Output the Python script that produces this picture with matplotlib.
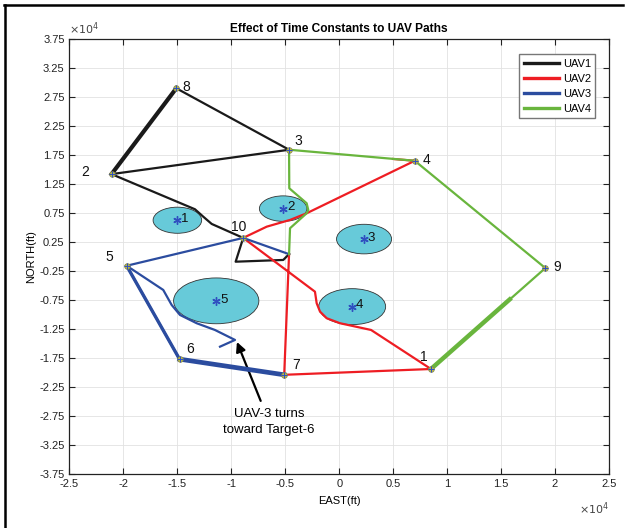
import matplotlib.pyplot as plt
from matplotlib.patches import Ellipse
from matplotlib.lines import Line2D
import numpy as np

plt.rcParams['font.family'] = ['Liberation Sans', 'DejaVu Sans']

# waypoints (ft)
wp_id = [1, 2, 3, 4, 5, 6, 7, 8, 9, 10]
wp_x = [8500, -21100, -4650, 7000, -19700, -14800, -5100, -15100, 19100, -8900]
wp_y = [-19400, 14200, 18400, 16500, -1600, -17700, -20400, 29000, -2000, 3200]

# targets: centre and radius (ft)
tg_id = [1, 2, 3, 4, 5]
tg_x = [-15000, -5200, 2300, 1200, -11400]
tg_y = [6250, 8250, 3000, -8650, -7650]
tg_r = [2250, 2200, 2550, 3100, 3950]

# UAV paths
uav1_x = [-4650, -5190, -9600, -8900, -11820, -12600, -13370, -21100, -15100, -4650, -21100]
uav1_y = [400, -600, -900, 3200, 5610, 6860, 8140, 14200, 29000, 18400, 14200]
uav2_x = [-4650, -5100, 8500, 2950, 70, -1160, -1780, -2090, -2250, -8900, -6720, -4560, -3020, 7000, 4980]
uav2_y = [400, -20400, -19400, -12670, -11510, -10650, -9510, -8070, -6070, 3200, 5140, 6300, 7450, 16500, 16810]
uav3_x = [-4650, -8900, -19700, -14800, -5100]
uav3_y = [400, 3200, -1600, -17700, -20400]
uav3_turn_x = [-19700, -16310, -15530, -14760, -13210, -11520, -9660, -11050]
uav3_turn_y = [-1600, -5770, -8360, -10080, -11510, -12670, -14390, -15550]
uav4_x = [-4650, -4560, -3020, -2870, -3020, -4630, -4650, 7000, 19100, 8500]
uav4_y = [400, 4870, 7450, 8020, 9180, 11760, 18400, 16500, -2000, -19400]

xticks = [-25000, -20000, -15000, -10000, -5000, 0, 5000, 10000, 15000, 20000, 25000]
xticklabels = ['-2.5', '-2', '-1.5', '-1', '-0.5', '0', '0.5', '1', '1.5', '2', '2.5']
yticks = [-37500 + 5000 * i for i in range(16)]
yticklabels = ['%g' % (v / 1e4) for v in yticks]

c_black = '#1a1a1a'
c_red = '#ee1d23'
c_blue = '#2b4c9f'
c_green = '#69b53d'

fig = plt.figure(figsize=(6.27, 5.28), dpi=100)
ax = fig.add_axes([0.1108, 0.1023, 0.8605, 0.8239])

for x, y, r, n in zip(tg_x, tg_y, tg_r, tg_id):
    ax.add_patch(Ellipse((x, y), 2 * r, 2 * r, facecolor='#67cad9', edgecolor='#333333', lw=0.6, zorder=2))
    ax.plot(x, y, marker=(6, 2, 0), color='#3050c0', ms=6, mew=1.0, zorder=3)
    ax.text(x + 350, y + 200, str(n), fontsize=9.5, color='#111111', ha='left', va='center', zorder=6)

lw = 1.6
ax.plot(uav1_x, uav1_y, color=c_black, lw=lw, zorder=4, label='UAV1')
ax.plot(uav2_x, uav2_y, color=c_red, lw=lw, zorder=4, label='UAV2')
ax.plot(uav3_x, uav3_y, color=c_blue, lw=lw, zorder=4, label='UAV3')
ax.plot(uav4_x, uav4_y, color=c_green, lw=lw, zorder=4, label='UAV4')
ax.plot(uav3_turn_x, uav3_turn_y, color=c_blue, lw=lw, zorder=4)

# repeated passes look thicker
ax.plot([wp_x[1], wp_x[7]], [wp_y[1], wp_y[7]], color=c_black, lw=3.0, zorder=4)
ax.plot([wp_x[4], wp_x[5]], [wp_y[4], wp_y[5]], color=c_blue, lw=2.4, zorder=4)
ax.plot([wp_x[5], wp_x[6]], [wp_y[5], wp_y[6]], color=c_blue, lw=3.4, zorder=4)
ax.plot([wp_x[0], 15800], [wp_y[0], -7400], color=c_green, lw=3.2, zorder=4)

ax.plot(wp_x, wp_y, 'o', ms=4, mfc='#c8c83c', mec='#8a8a50', mew=0.6, zorder=5)
ax.plot(wp_x, wp_y, '+', ms=4, color='#3050c0', mew=0.8, zorder=5)

lab_dx = [-1000, -2800, 500, 700, -2000, 600, 700, 600, 700, -1100]
lab_dy = [2000, 300, 1500, 200, 1500, 1700, 1700, 200, 200, 1800]
for x, y, n, dx, dy in zip(wp_x, wp_y, wp_id, lab_dx, lab_dy):
    ax.text(x + dx, y + dy, str(n), fontsize=10, color='#111111', ha='left', va='center', zorder=6)

ax.annotate('UAV-3 turns\ntoward Target-6', xy=(-9480, -14740), xytext=(-6500, -28500),
            ha='center', va='center', fontsize=9.5, linespacing=1.5,
            arrowprops=dict(arrowstyle='-|>', color='black', lw=1.6, mutation_scale=14,
                            shrinkA=3, shrinkB=0))

ax.set_xlim(-25000, 25000)
ax.set_ylim(-37500, 37500)
ax.set_xticks(xticks)
ax.set_xticklabels(xticklabels)
ax.set_yticks(yticks)
ax.set_yticklabels(yticklabels)
ax.tick_params(direction='in', length=4, width=0.8, labelsize=8, top=True, right=True, colors='#222222')
ax.grid(True, color='#e2e2e2', lw=0.6)
ax.set_axisbelow(True)
for s in ax.spines.values():
    s.set_linewidth(0.9)
    s.set_color('#222222')

ax.set_title('Effect of Time Constants to UAV Paths', fontsize=8.6, fontweight='bold', pad=5)
ax.set_xlabel('EAST(ft)', fontsize=8, labelpad=5)
ax.set_ylabel('NORTH(ft)', fontsize=8, labelpad=2)
ax.text(0.0, 1.005, r'$\times10^4$', transform=ax.transAxes, fontsize=8, ha='left', va='bottom', color='#444444')
ax.text(1.0, -0.06, r'$\times10^4$', transform=ax.transAxes, fontsize=8, ha='right', va='top', color='#444444')

leg = ax.legend(loc='upper right', fontsize=8, handlelength=3.2, handletextpad=0.3,
                borderpad=0.4, labelspacing=0.45, fancybox=False, framealpha=1, edgecolor='#777777',
                bbox_to_anchor=(0.985, 0.978))
for h in leg.get_lines():
    h.set_linewidth(2.4)

# figure frame (left and top)
fig.add_artist(Line2D([0.008, 0.008], [0, 0.9905], transform=fig.transFigure, color='black', lw=1.8))
fig.add_artist(Line2D([0.006, 0.9936], [0.9905, 0.9905], transform=fig.transFigure, color='black', lw=1.8))

plt.savefig('out.png', dpi=100)
